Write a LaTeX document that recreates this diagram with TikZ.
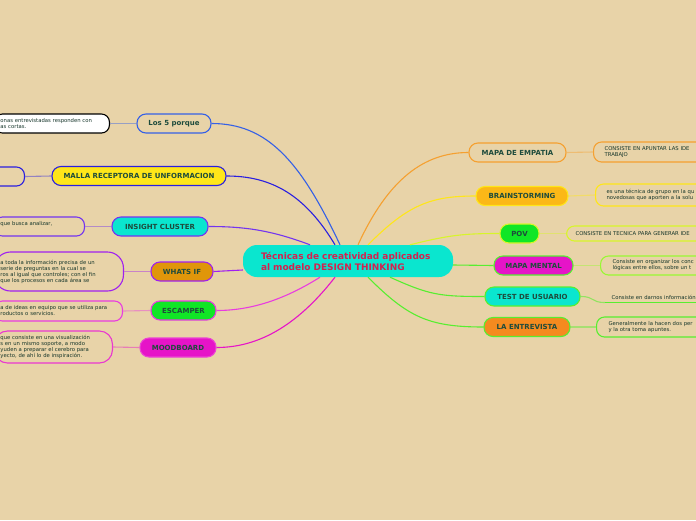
\documentclass[tikz,border=0pt]{standalone}
\usepackage{fontspec}
\setmainfont{DejaVu Sans}
\definecolor{sand}{HTML}{E8D3A8}
\definecolor{ink}{HTML}{1E4B3C}
\definecolor{aqua}{HTML}{0AE6CF}
\definecolor{crimson}{HTML}{D4214F}
\definecolor{skyblue}{HTML}{3560E6}
\definecolor{deepblue}{HTML}{2A1FE0}
\definecolor{violet}{HTML}{7334F0}
\definecolor{purple}{HTML}{A020F0}
\definecolor{pink}{HTML}{E83CE0}
\definecolor{magenta}{HTML}{E614C8}
\definecolor{amber}{HTML}{E0960A}
\definecolor{lime}{HTML}{10E626}
\definecolor{orange}{HTML}{F5A030}
\definecolor{gold}{HTML}{FBB817}
\definecolor{yellow}{HTML}{FFE619}
\definecolor{chartreuse}{HTML}{D8F52A}
\definecolor{leaf}{HTML}{58EE30}
\definecolor{spring}{HTML}{99F833}
\definecolor{tangerine}{HTML}{F58A1F}

\begin{document}
\begin{tikzpicture}[x=1pt,y=-1pt,
  topic/.style={draw,line width=1.1pt,rounded corners=9pt,minimum height=19pt,
    inner sep=0pt,font=\fontsize{7}{8}\selectfont\bfseries,text=ink},
  note/.style={draw,line width=1.1pt,rounded corners=8pt,fill=sand,inner xsep=6pt,
    inner ysep=2pt,align=left,font=\fontsize{5.3}{6}\selectfont,text=ink!70!black},
  link/.style={line width=1.1pt}]
  \fill[sand] (0,0) rectangle (696,520);
  \clip (0,0) rectangle (696,520);

  % central idea
  \node[fill=aqua,rounded corners=14pt,minimum width=210pt,minimum height=32pt,inner xsep=0pt,
    text width=174pt,align=left,font=\fontsize{9}{11}\selectfont\bfseries,text=crimson]
    (c) at (348,261) {Técnicas de creatividad aplicados\\al modelo DESIGN THINKING};

  % left branches
  \node[topic,draw=skyblue,fill=sand,minimum width=74pt] (porque) at (174,123.5) {Los 5 porque};
  \node[topic,draw=deepblue,fill=yellow,minimum width=174pt] (malla) at (139,176) {MALLA RECEPTORA DE UNFORMACION};
  \node[topic,draw=violet,fill=aqua,minimum width=96pt] (insight) at (160,226.5) {INSIGHT CLUSTER};
  \node[topic,draw=purple,fill=amber,minimum width=62pt] (whatsif) at (182,271.5) {WHATS IF};
  \node[topic,draw=pink,fill=lime,minimum width=65pt] (escamper) at (183.5,310.5) {ESCAMPER};
  \node[topic,draw=magenta!80!white,fill=magenta,minimum width=76pt] (mood) at (178,347.5) {MOODBOARD};

  % right branches
  \node[topic,draw=orange,fill=sand,minimum width=97pt] (empatia) at (517.5,152.5) {MAPA DE EMPATIA};
  \node[topic,draw=yellow,fill=gold,minimum width=92pt] (brain) at (522,196) {BRAINSTORMING};
  \node[topic,draw=chartreuse,fill=lime,minimum width=39pt] (pov) at (519.5,233.5) {POV};
  \node[topic,draw=leaf,fill=magenta,minimum width=79pt] (mental) at (533.5,265.5) {MAPA MENTAL};
  \node[topic,draw=leaf,fill=aqua,minimum width=95pt] (test) at (532.5,296.5) {TEST DE USUARIO};
  \node[topic,draw=leaf,fill=tangerine,minimum width=86pt] (entrevista) at (527,327) {LA ENTREVISTA};

  % left notes
  \node[note,draw=black,fill=white,anchor=east,text width=103pt,minimum height=19pt] (n1) at (110,123.5)
    {onas entrevistadas responden con\\as cortas.};
  \node[note,draw=deepblue,anchor=east,minimum width=60pt,minimum height=19pt] (n2) at (25,176.5) {};
  \node[note,draw=violet,anchor=east,text width=78pt,minimum height=19pt] (n3) at (85,226.5)
    {que busca analizar,\\\mbox{}};
  \node[note,draw=purple,rounded corners=16pt,anchor=east,text width=117pt,minimum height=39pt] (n4) at (124,271.5)
    {a toda la información precisa de un\\serie de preguntas en la cual se\\ros al igual que controles; con el fin\\que los procesos en cada área se};
  \node[note,draw=pink,anchor=east,text width=116pt,minimum height=20pt] (n5) at (123,311)
    {a de ideas en equipo que se utiliza para\\roductos o servicios.};
  \node[note,draw=magenta!85!white,rounded corners=13pt,anchor=east,text width=106pt,minimum height=32pt] (n6) at (113,347)
    {que consiste en una visualización\\s en un mismo soporte, a modo\\yuden a preparar el cerebro para\\yecto, de ahí lo de inspiración.};

  % right notes
  \node[note,draw=orange,inner xsep=11pt,anchor=west,text width=140pt,minimum height=20pt] (r1) at (593,152)
    {CONSISTE EN APUNTAR LAS IDE\\TRABAJO};
  \node[note,draw=yellow,inner xsep=11pt,anchor=west,text width=140pt,minimum height=22pt] (r2) at (595,195)
    {es una técnica de grupo en la qu\\novedosas que aporten a la solu};
  \node[note,draw=chartreuse,inner xsep=9pt,anchor=west,text width=160pt,minimum height=15pt] (r3) at (566,233.5)
    {CONSISTE EN TECNICA PARA GENERAR IDE};
  \node[note,draw=spring,inner xsep=12pt,anchor=west,text width=140pt,minimum height=19pt] (r4) at (600,265.5)
    {Consiste en organizar los conc\\lógicas entre ellos, sobre un t};
  \node[note,draw=none,fill=none,inner xsep=6pt,anchor=south west,text width=140pt] (r5) at (605,302.5)
    {Consiste en darnos información};
  \node[note,draw=leaf,inner xsep=12pt,anchor=west,text width=140pt,minimum height=20pt] (r6) at (596,327)
    {Generalmente la hacen dos per\\y la otra toma apuntes.};

  % connectors from the centre
  \draw[link,skyblue] ([xshift=-8pt]c.north) .. controls +(-40,-85) and +(55,0) .. (porque.east);
  \draw[link,deepblue] ([xshift=-13pt]c.north) .. controls +(-30,-50) and +(45,0) .. (malla.east);
  \draw[link,violet] ([xshift=-38pt]c.north) .. controls +(-40,-15) and +(35,0) .. (insight.east);
  \draw[link,purple] ([yshift=-9pt]c.west) -- (whatsif.east);
  \draw[link,pink] ([xshift=-28pt]c.south) .. controls +(-35,22) and +(35,0) .. (escamper.east);
  \draw[link,magenta] ([xshift=-13pt]c.south) .. controls +(-35,45) and +(45,0) .. (mood.east);
  \draw[link,orange] ([xshift=10pt]c.north) .. controls +(30,-65) and +(-45,0) .. (empatia.west);
  \draw[link,yellow] ([xshift=20pt]c.north) .. controls +(40,-40) and +(-45,0) .. (brain.west);
  \draw[link,chartreuse] ([xshift=62pt]c.north) .. controls +(40,-10) and +(-35,0) .. (pov.west);
  \draw[link,leaf] ([yshift=-4pt]c.east) -- (mental.west);
  \draw[link,leaf] ([xshift=42pt]c.south) .. controls +(40,18) and +(-45,0) .. (test.west);
  \draw[link,leaf] ([xshift=20pt]c.south) .. controls +(40,40) and +(-55,0) .. (entrevista.west);

  % connectors to the notes
  \draw[link,skyblue!45!sand] (porque.west) -- (n1.east);
  \draw[link,deepblue!45!sand] (malla.west) -- (n2.east);
  \draw[link,violet!45!sand] (insight.west) -- (n3.east);
  \draw[link,purple!45!sand] (whatsif.west) -- (n4.east);
  \draw[link,pink!45!sand] (escamper.west) -- (n5.east);
  \draw[link,magenta!45!sand] (mood.west) -- (n6.east);
  \draw[link,orange!45!sand] (empatia.east) -- (r1.west);
  \draw[link,yellow!45!sand] (brain.east) -- (r2.west);
  \draw[link,chartreuse!45!sand] (pov.east) -- (r3.west);
  \draw[link,spring!45!sand] (mental.east) -- (r4.west);
  \draw[link,leaf!60!sand] (test.east) .. controls +(15,0) and +(-15,0) .. (r5.south west);
  \draw[link,leaf] (r5.south west) -- (r5.south east);
  \draw[link,leaf!45!sand] (entrevista.east) -- (r6.west);
\end{tikzpicture}
\end{document}
